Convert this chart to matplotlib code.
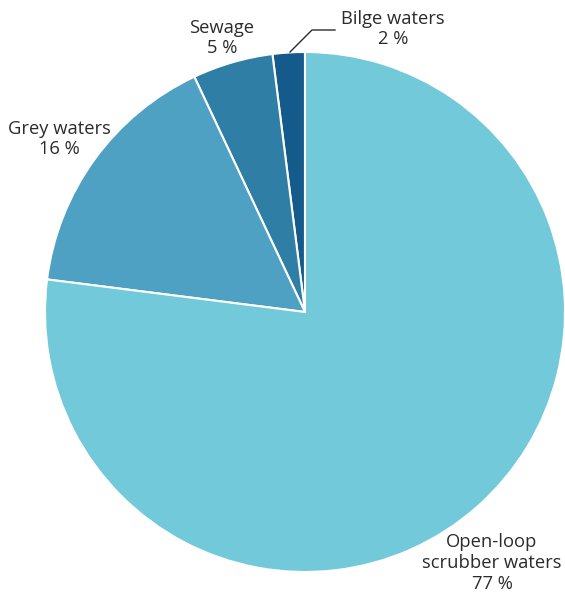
import matplotlib.pyplot as plt

plt.rcParams['font.family'] = ['Open Sans', 'DejaVu Sans']

categories = ["Bilge waters", "Sewage", "Grey waters", "Open-loop\nscrubber waters"]
shares = [2, 5, 16, 77]
colors = ["#145a8a", "#2f7ea6", "#4ea1c2", "#72c9da"]

W, H = 565, 599
fig = plt.figure(figsize=(W / 100, H / 100), dpi=100)
ax = fig.add_axes([0, 0, 1, 1])

cx, cy, r = 305, H - 312, 260
ax.pie(shares, colors=colors, startangle=90, counterclock=True,
       center=(cx, cy), radius=r, frame=True,
       wedgeprops=dict(edgecolor="white", linewidth=1.5))
ax.set_xlim(0, W)
ax.set_ylim(0, H)
ax.set_aspect("equal")
ax.axis("off")

# label placement (pixel positions measured from top)
label_pos = [(393, 29), (222, 38), (59, 139), (492, 563)]
for name, val, (x, y) in zip(categories, shares, label_pos):
    ax.text(x, H - y, f"{name}\n{val} %", ha="center", va="center",
            fontsize=13.2, color="#2b2b2b", linespacing=1.2)

# leader line for the small slice
ax.plot([290, 312, 335], [H - 52, H - 30, H - 30], color="#2b2b2b", lw=1)

fig.savefig("out.png", dpi=100)
